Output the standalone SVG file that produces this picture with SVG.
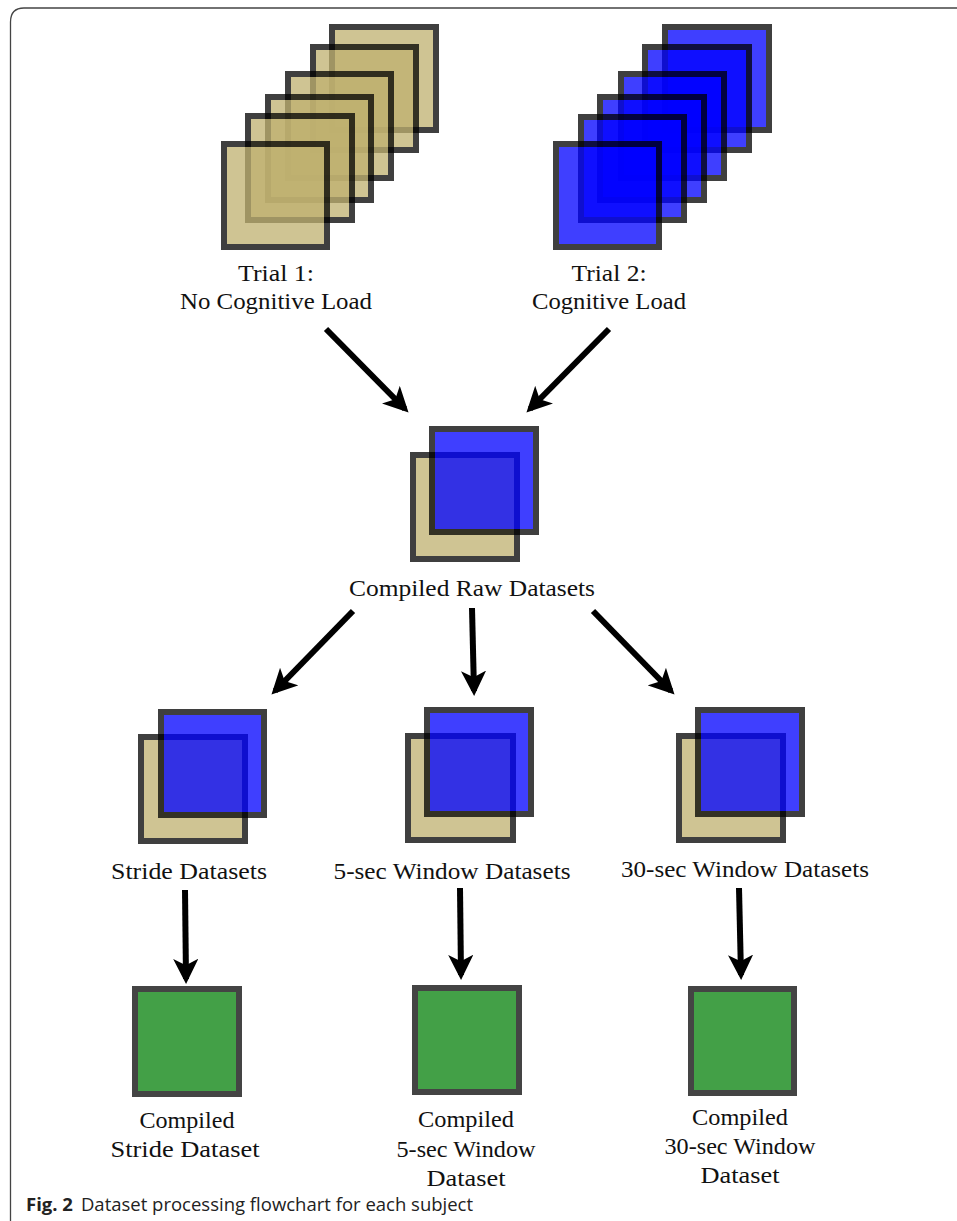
<svg xmlns="http://www.w3.org/2000/svg" width="957" height="1221" viewBox="0 0 957 1221">
<style>
.tan{fill:#bfb170;stroke:#000;stroke-width:6;opacity:0.75}
.blu{fill:#0000ff;stroke:#000;stroke-width:6;opacity:0.75}
.grn{fill:#43a047;stroke:#444;stroke-width:6}
.lbl{font-family:"Liberation Serif","DejaVu Serif",serif;font-size:23px;fill:#111;text-anchor:middle}
.arr{stroke:#000;stroke-width:6;fill:none;marker-end:url(#ah)}
.cap{font-family:"Open Sans","Noto Sans","Liberation Sans",sans-serif;font-size:18.5px;fill:#222}
</style>
<defs>
<marker id="ah" viewBox="0 0 10 10" refX="8" refY="5" markerWidth="4.2" markerHeight="4.2" orient="auto" markerUnits="strokeWidth">
<path d="M0,0 L10,5 L0,10 L2.5,5 Z" fill="#000"/>
</marker>
</defs>
<rect width="957" height="1221" fill="#fff"/>
<path d="M10.5,1221 V22 Q10.5,8 24,8 H957" fill="none" stroke="#444" stroke-width="1.3"/>

<g id="trial1">
<rect class="tan" x="332" y="27" width="104" height="103"/>
<rect class="tan" x="313" y="47" width="103" height="103"/>
<rect class="tan" x="288" y="74" width="103" height="104"/>
<rect class="tan" x="268" y="97" width="103" height="103"/>
<rect class="tan" x="248" y="116" width="104" height="104"/>
<rect class="tan" x="224" y="144" width="103" height="103"/>
<text class="lbl" x="276" y="281" textLength="76" lengthAdjust="spacingAndGlyphs">Trial 1:</text>
<text class="lbl" x="276" y="309" textLength="192" lengthAdjust="spacingAndGlyphs">No Cognitive Load</text>
</g>

<g id="trial2">
<rect class="blu" x="665" y="27" width="104" height="103"/>
<rect class="blu" x="645" y="47" width="104" height="103"/>
<rect class="blu" x="621" y="74" width="103" height="104"/>
<rect class="blu" x="600" y="97" width="104" height="103"/>
<rect class="blu" x="581" y="117" width="103" height="103"/>
<rect class="blu" x="556" y="144" width="103" height="103"/>
<text class="lbl" x="609" y="281" textLength="75" lengthAdjust="spacingAndGlyphs">Trial 2:</text>
<text class="lbl" x="609" y="309" textLength="154" lengthAdjust="spacingAndGlyphs">Cognitive Load</text>
</g>

<g id="compiled-raw">
<rect class="tan" x="413" y="455" width="104" height="104"/>
<rect class="blu" x="432" y="429" width="104" height="103"/>
<text class="lbl" x="472" y="596" textLength="246" lengthAdjust="spacingAndGlyphs">Compiled Raw Datasets</text>
</g>

<g id="stride">
<rect class="tan" x="141" y="737" width="104" height="104"/>
<rect class="blu" x="161" y="712" width="103" height="103"/>
<text class="lbl" x="189" y="879" textLength="156" lengthAdjust="spacingAndGlyphs">Stride Datasets</text>
</g>

<g id="win5">
<rect class="tan" x="408" y="736" width="105" height="104"/>
<rect class="blu" x="427" y="710" width="104" height="104"/>
<text class="lbl" x="452" y="879" textLength="237" lengthAdjust="spacingAndGlyphs">5-sec Window Datasets</text>
</g>

<g id="win30">
<rect class="tan" x="679" y="736" width="104" height="104"/>
<rect class="blu" x="698" y="710" width="104" height="104"/>
<text class="lbl" x="745" y="877" textLength="248" lengthAdjust="spacingAndGlyphs">30-sec Window Datasets</text>
</g>

<g id="out-stride">
<rect class="grn" x="135" y="989" width="104" height="105"/>
<text class="lbl" x="187" y="1128" textLength="95" lengthAdjust="spacingAndGlyphs">Compiled</text>
<text class="lbl" x="185" y="1157" textLength="149" lengthAdjust="spacingAndGlyphs">Stride Dataset</text>
</g>

<g id="out-win5">
<rect class="grn" x="415" y="988" width="104" height="104"/>
<text class="lbl" x="466" y="1127" textLength="96" lengthAdjust="spacingAndGlyphs">Compiled</text>
<text class="lbl" x="466" y="1157" textLength="139" lengthAdjust="spacingAndGlyphs">5-sec Window</text>
<text class="lbl" x="466" y="1186" textLength="79" lengthAdjust="spacingAndGlyphs">Dataset</text>
</g>

<g id="out-win30">
<rect class="grn" x="691" y="989" width="103" height="104"/>
<text class="lbl" x="740" y="1125" textLength="96" lengthAdjust="spacingAndGlyphs">Compiled</text>
<text class="lbl" x="740" y="1154" textLength="151" lengthAdjust="spacingAndGlyphs">30-sec Window</text>
<text class="lbl" x="740" y="1183" textLength="79" lengthAdjust="spacingAndGlyphs">Dataset</text>
</g>

<g id="connectors">
<line class="arr" x1="326" y1="329" x2="405" y2="409"/>
<line class="arr" x1="609" y1="329" x2="530" y2="409"/>
<line class="arr" x1="353" y1="611" x2="275" y2="691"/>
<line class="arr" x1="472" y1="608" x2="474" y2="691"/>
<line class="arr" x1="593" y1="611" x2="671" y2="691"/>
<line class="arr" x1="185" y1="890" x2="186" y2="979"/>
<line class="arr" x1="460" y1="888" x2="461" y2="975"/>
<line class="arr" x1="739" y1="888" x2="741" y2="975"/>
</g>

<text class="cap" x="26" y="1211"><tspan font-weight="bold">Fig. 2</tspan><tspan dx="8">Dataset processing flowchart for each subject</tspan></text>
</svg>
